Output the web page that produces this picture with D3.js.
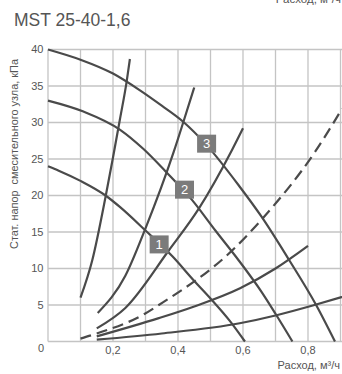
<!DOCTYPE html>
<html><head><meta charset="utf-8">
<script src="https://cdn.jsdelivr.net/npm/d3@7"></script>
<style>
html,body{margin:0;padding:0;background:#fff;}
svg{display:block;font-family:"Liberation Sans",Arial,sans-serif;}
</style></head>
<body>
<svg id="c" width="342" height="374"></svg>
<script>
// ---- data ----
const title = "MST 25-40-1,6";
const xTicks = [0.2, 0.4, 0.6, 0.8];
const xTickLabels = ["0,2", "0,4", "0,6", "0,8"];
const yTicks = [5, 10, 15, 20, 25, 30, 35, 40];
const xGrid = [0, 0.1, 0.2, 0.3, 0.4, 0.5, 0.6, 0.7, 0.8, 0.9];
const yGrid = [0, 5, 10, 15, 20, 25, 30, 35, 40];
const xLabel = "Расход, м³/ч";
const yLabel = "Стат. напор  смесительного узла, кПа";

// pump curves [flow, pressure]
const pump1 = [[0,24],[0.033,23.4],[0.1,22],[0.177,20],[0.222,18.4],[0.3,15.2],[0.382,11.7],[0.45,8.3],[0.5,5.9],[0.56,2.8],[0.606,0]];
const pump2 = [[0,33],[0.109,31.5],[0.222,29],[0.293,26.4],[0.362,23.3],[0.443,19.4],[0.515,15.2],[0.587,11.1],[0.657,6.8],[0.7,3.8],[0.752,0]];
const pump3 = [[0,40],[0.1,38.6],[0.2,36.7],[0.283,34.4],[0.35,32.3],[0.416,30.1],[0.488,26.9],[0.59,21.2],[0.657,17.1],[0.74,11.3],[0.825,5],[0.883,0]];
// system curves
const sys1 = [[0.1,6],[0.136,11.1],[0.177,19.8],[0.2,25.2],[0.222,30.6],[0.242,35.6],[0.252,38.7]];
const sys2 = [[0.153,3.9],[0.238,9],[0.3,15.5],[0.387,26],[0.416,30],[0.45,34.8]];
const sys3 = [[0.15,1.8],[0.238,4.6],[0.372,12.5],[0.464,18.2],[0.567,26.3],[0.6,29.2]];
const sysDashed = [[0.1,0.4],[0.15,1.1],[0.298,3.8],[0.341,5.0],[0.572,12.7],[0.657,16.7],[0.822,26],[0.905,31.9]];
const sys5 = [[0.15,0.7],[0.341,3.2],[0.45,4.8],[0.591,7.3],[0.7,10],[0.8,13.1]];
const sys6 = [[0.15,0.25],[0.35,1.1],[0.59,2.5],[0.703,3.6],[0.82,5],[0.905,6.1]];

const solidCurves = [pump1, pump2, pump3, sys1, sys2, sys3, sys5, sys6];
const dashedCurves = [sysDashed];

const markerLabels = ["1", "2", "3"];
const markerPos = [[0.342,13.3],[0.42,20.8],[0.488,27.1]];

// ---- drawing ----
const svg = d3.select("#c");
const x = d3.scaleLinear().domain([0, 0.9]).range([48, 340.5]);
const y = d3.scaleLinear().domain([0, 40]).range([341.5, 49.5]);
const textCol = "#555";
const lineCol = "#4a4a4a";

// top-right label, partially above the page edge as in the reference
svg.append("text").attr("x", 341).attr("y", 3).attr("text-anchor", "end")
  .attr("font-size", 11.5).attr("fill", textCol).text(xLabel);

svg.append("text").attr("x", 14).attr("y", 26).attr("font-size", 17.5)
  .attr("fill", textCol).text(title);

// grid
const g = svg.append("g");
g.selectAll(".vg").data(xGrid).enter().append("line")
  .attr("x1", d => x(d)).attr("x2", d => x(d))
  .attr("y1", y(40)).attr("y2", y(0))
  .attr("stroke", "#c4c4c4").attr("stroke-width", 1.3);
g.selectAll(".hg").data(yGrid).enter().append("line")
  .attr("x1", x(0)).attr("x2", 342)
  .attr("y1", d => y(d)).attr("y2", d => y(d))
  .attr("stroke", "#c4c4c4").attr("stroke-width", 1.3);

// y ticks
svg.selectAll(".yt").data(yTicks).enter().append("text")
  .attr("x", 43.5).attr("y", d => y(d)).attr("dy", "0.36em")
  .attr("text-anchor", "end").attr("font-size", 11).attr("fill", textCol)
  .text(d => d);
svg.append("text").attr("x", 41).attr("y", 352).attr("text-anchor", "middle")
  .attr("font-size", 11).attr("fill", textCol).text("0");
// x ticks
svg.selectAll(".xt").data(xTicks).enter().append("text")
  .attr("x", d => x(d)).attr("y", 354).attr("text-anchor", "middle")
  .attr("font-size", 11).attr("fill", textCol)
  .text((d, i) => xTickLabels[i]);

// axis titles
svg.append("text").attr("x", 340).attr("y", 369).attr("text-anchor", "end")
  .attr("font-size", 11).attr("fill", textCol).text(xLabel);
svg.append("text").attr("transform", "translate(17.5,154) rotate(-90)")
  .attr("text-anchor", "middle").attr("font-size", 10.9).attr("fill", textCol)
  .style("white-space", "pre").text(yLabel);

// curves
const line = d3.line().x(d => x(d[0])).y(d => y(d[1])).curve(d3.curveMonotoneX);
svg.selectAll(".sc").data(solidCurves).enter().append("path")
  .attr("d", line).attr("fill", "none").attr("stroke", lineCol)
  .attr("stroke-width", 2.2);
svg.selectAll(".dc").data(dashedCurves).enter().append("path")
  .attr("d", line).attr("fill", "none").attr("stroke", lineCol)
  .attr("stroke-width", 2.2).attr("stroke-dasharray", "11,6");

// number markers
const mk = svg.selectAll(".mk").data(markerPos).enter().append("g")
  .attr("transform", d => `translate(${x(d[0])},${y(d[1])})`);
mk.append("rect").attr("x", -9.5).attr("y", -9).attr("width", 19).attr("height", 18)
  .attr("fill", "#7b7b7b");
mk.append("text").attr("text-anchor", "middle").attr("dy", "0.36em")
  .attr("font-size", 13).attr("fill", "#fff").text((d, i) => markerLabels[i]);
</script>
</body></html>
